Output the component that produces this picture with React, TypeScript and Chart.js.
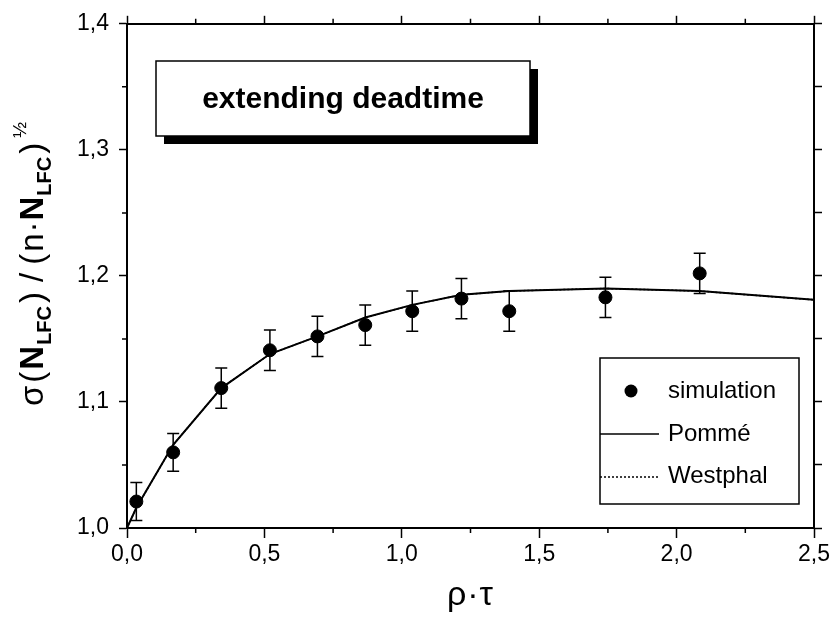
import React, { useEffect, useRef } from "react";
import { Chart, registerables } from "chart.js";

Chart.register(...registerables);

// ---- data ----
const simX = [0.034, 0.168, 0.343, 0.52, 0.693, 0.867, 1.038, 1.217, 1.391, 1.741, 2.084];
const simY = [1.021, 1.06, 1.111, 1.141, 1.152, 1.161, 1.172, 1.182, 1.172, 1.183, 1.202];
const simErr = [0.015, 0.015, 0.016, 0.016, 0.016, 0.016, 0.016, 0.016, 0.016, 0.016, 0.016];

const curveX = [0, 0.034, 0.168, 0.343, 0.52, 0.693, 0.867, 1.038, 1.217, 1.391, 1.741, 2.084, 2.5];
const pommeY = [1.0, 1.016, 1.066, 1.111, 1.138, 1.152, 1.167, 1.177, 1.185, 1.188, 1.19, 1.188, 1.181];
const westphalY = [1.0, 1.016, 1.066, 1.111, 1.138, 1.152, 1.167, 1.177, 1.185, 1.188, 1.19, 1.188, 1.181];

const xMinorTicks = [0.25, 0.75, 1.25, 1.75, 2.25];
const yMinorTicks = [1.05, 1.15, 1.25, 1.35];

const boxTitle = "extending deadtime";
const legendLabels = ["simulation", "Pommé", "Westphal"];
const xTitle = "ρ·τ";

const FONT = "'Liberation Sans', Arial, sans-serif";

const overlay = {
  id: "overlay",
  afterDatasetsDraw(chart: any) {
    const ctx = chart.ctx;
    const xs = chart.scales.x;
    const ys = chart.scales.y;
    ctx.save();
    ctx.strokeStyle = "#000";
    ctx.lineWidth = 1.5;
    for (let i = 0; i < simX.length; i++) {
      const px = xs.getPixelForValue(simX[i]);
      const top = ys.getPixelForValue(simY[i] + simErr[i]);
      const bot = ys.getPixelForValue(simY[i] - simErr[i]);
      ctx.beginPath();
      ctx.moveTo(px, top);
      ctx.lineTo(px, bot);
      ctx.moveTo(px - 6, top);
      ctx.lineTo(px + 6, top);
      ctx.moveTo(px - 6, bot);
      ctx.lineTo(px + 6, bot);
      ctx.stroke();
    }
    ctx.restore();
  },
  afterDraw(chart: any) {
    const ctx = chart.ctx;
    const xs = chart.scales.x;
    const ys = chart.scales.y;
    const area = chart.chartArea;
    ctx.save();
    // minor ticks
    ctx.strokeStyle = "#000";
    ctx.lineWidth = 1.5;
    ctx.beginPath();
    for (const v of xMinorTicks) {
      const px = xs.getPixelForValue(v);
      ctx.moveTo(px, area.bottom);
      ctx.lineTo(px, area.bottom + 5);
      ctx.moveTo(px, area.top);
      ctx.lineTo(px, area.top - 5);
    }
    for (const v of yMinorTicks) {
      const py = ys.getPixelForValue(v);
      ctx.moveTo(area.left, py);
      ctx.lineTo(area.left - 5, py);
    }
    ctx.stroke();

    // title box with shadow
    const bx = 156, by = 61, bw = 374, bh = 75;
    ctx.fillStyle = "#000";
    ctx.fillRect(bx + 8, by + 8, bw, bh);
    ctx.fillStyle = "#fff";
    ctx.fillRect(bx, by, bw, bh);
    ctx.strokeStyle = "#000";
    ctx.lineWidth = 1.5;
    ctx.strokeRect(bx, by, bw, bh);
    ctx.fillStyle = "#000";
    ctx.font = `bold 30px ${FONT}`;
    ctx.textAlign = "center";
    ctx.textBaseline = "alphabetic";
    ctx.fillText(boxTitle, bx + bw / 2, 108);
    ctx.textAlign = "left";

    // legend box
    const lx = 600, ly = 358, lw = 199, lh = 146;
    ctx.fillStyle = "#fff";
    ctx.fillRect(lx, ly, lw, lh);
    ctx.strokeStyle = "#000";
    ctx.lineWidth = 1.5;
    ctx.strokeRect(lx, ly, lw, lh);
    ctx.fillStyle = "#000";
    ctx.beginPath();
    ctx.arc(631, 391, 6.5, 0, Math.PI * 2);
    ctx.fill();
    ctx.lineWidth = 1.5;
    ctx.beginPath();
    ctx.moveTo(lx, 434);
    ctx.lineTo(659, 434);
    ctx.stroke();
    ctx.setLineDash([2, 2]);
    ctx.beginPath();
    ctx.moveTo(lx, 477);
    ctx.lineTo(659, 477);
    ctx.stroke();
    ctx.setLineDash([]);
    ctx.font = `24px ${FONT}`;
    ctx.fillText(legendLabels[0], 668, 398);
    ctx.fillText(legendLabels[1], 668, 441);
    ctx.fillText(legendLabels[2], 668, 483);

    // x title
    ctx.font = `34px ${FONT}`;
    (ctx as any).letterSpacing = "1px";
    const xw = ctx.measureText(xTitle).width;
    ctx.fillText(xTitle, (area.left + area.right) / 2 - xw / 2, 605);
    (ctx as any).letterSpacing = "0px";

    // y title (rotated, with sub/superscripts)
    const parts = [
      { t: "σ", s: 33, b: false, dy: 0, g: 0 },
      { t: "(", s: 33, b: false, dy: 0, g: 3 },
      { t: "N", s: 33, b: true, dy: 0, g: 2 },
      { t: "LFC", s: 20, b: true, dy: 8, g: 1 },
      { t: ")", s: 33, b: false, dy: 0, g: 3 },
      { t: "/", s: 33, b: false, dy: 0, g: 10 },
      { t: "(", s: 33, b: false, dy: 0, g: 8 },
      { t: "n", s: 33, b: false, dy: 0, g: 2 },
      { t: "·", s: 33, b: false, dy: 0, g: 1 },
      { t: "N", s: 33, b: true, dy: 0, g: 1 },
      { t: "LFC", s: 20, b: true, dy: 8, g: 1 },
      { t: ")", s: 33, b: false, dy: 0, g: 3 },
      { t: "½", s: 19, b: false, dy: -17, g: 5 },
    ];
    let total = 0;
    const widths: number[] = [];
    for (const p of parts) {
      ctx.font = `${p.b ? "bold " : ""}${p.s}px ${FONT}`;
      const w = ctx.measureText(p.t).width;
      widths.push(w);
      total += w + p.g;
    }
    const cy = 264;
    ctx.translate(43, cy);
    ctx.rotate(-Math.PI / 2);
    let cx = -total / 2;
    parts.forEach((p, i) => {
      cx += p.g;
      ctx.font = `${p.b ? "bold " : ""}${p.s}px ${FONT}`;
      ctx.fillText(p.t, cx, p.dy);
      cx += widths[i];
    });
    ctx.restore();
  },
};

export default function App() {
  const ref = useRef<HTMLCanvasElement | null>(null);
  useEffect(() => {
    if (!ref.current) return;
    Chart.defaults.font.family = FONT;
    Chart.defaults.color = "#000";
    const tickFmt = (v: any) => Number(v).toFixed(1).replace(".", ",");
    const chart = new Chart(ref.current, {
      type: "scatter",
      data: {
        datasets: [
          {
            label: legendLabels[0],
            data: simX.map((x, i) => ({ x, y: simY[i] })),
            pointRadius: 6.5,
            pointBackgroundColor: "#000",
            pointBorderColor: "#000",
            showLine: false,
            order: 0,
          },
          {
            label: legendLabels[2],
            data: curveX.map((x, i) => ({ x, y: westphalY[i] })),
            showLine: true,
            pointRadius: 0,
            borderColor: "#000",
            borderWidth: 1.5,
            borderDash: [2, 2],
            tension: 0,
            order: 2,
          },
          {
            label: legendLabels[1],
            data: curveX.map((x, i) => ({ x, y: pommeY[i] })),
            showLine: true,
            pointRadius: 0,
            borderColor: "#000",
            borderWidth: 2,
            tension: 0,
            order: 1,
          },
        ],
      },
      options: {
        animation: false,
        responsive: false,
        layout: { padding: 0 },
        plugins: { legend: { display: false }, tooltip: { enabled: false } },
        scales: {
          x: {
            type: "linear",
            position: "bottom",
            min: 0,
            max: 2.5,
            ticks: { stepSize: 0.5, callback: tickFmt, font: { size: 23 }, padding: 3, maxRotation: 0, color: "#000" },
            grid: { drawOnChartArea: false, drawTicks: true, tickLength: 10, color: "#000", tickWidth: 1.5 },
            border: { display: true, color: "#000", width: 2 },
            afterFit: (s: any) => { s.height = 90; },
          },
          x2: {
            type: "linear",
            position: "top",
            min: 0,
            max: 2.5,
            ticks: { stepSize: 0.5, display: false },
            grid: { drawOnChartArea: false, drawTicks: true, tickLength: 8, color: "#000", tickWidth: 1.5 },
            border: { display: true, color: "#000", width: 2 },
            afterFit: (s: any) => { s.height = 20; },
          },
          y: {
            type: "linear",
            position: "left",
            min: 1.0,
            max: 1.4,
            ticks: { stepSize: 0.1, callback: tickFmt, font: { size: 23 }, padding: 10, color: "#000" },
            grid: { drawOnChartArea: false, drawTicks: true, tickLength: 8, color: "#000", tickWidth: 1.5 },
            border: { display: true, color: "#000", width: 2 },
            afterFit: (s: any) => { s.width = 127; },
          },
          y2: {
            type: "linear",
            position: "right",
            min: 1.0,
            max: 1.4,
            ticks: { stepSize: 0.05, display: false },
            grid: { drawOnChartArea: false, drawTicks: true, tickLength: 8, color: "#000", tickWidth: 1.5 },
            border: { display: true, color: "#000", width: 2 },
            afterFit: (s: any) => { s.width = 15; },
          },
        },
      },
      plugins: [overlay],
    } as any);
    return () => chart.destroy();
  }, []);
  return (
    <div style={{ position: "fixed", left: 0, top: 0, width: 833, height: 618, background: "#fff" }}>
      <canvas ref={ref} width={833} height={618} style={{ width: 833, height: 618, display: "block" }} />
    </div>
  );
}
